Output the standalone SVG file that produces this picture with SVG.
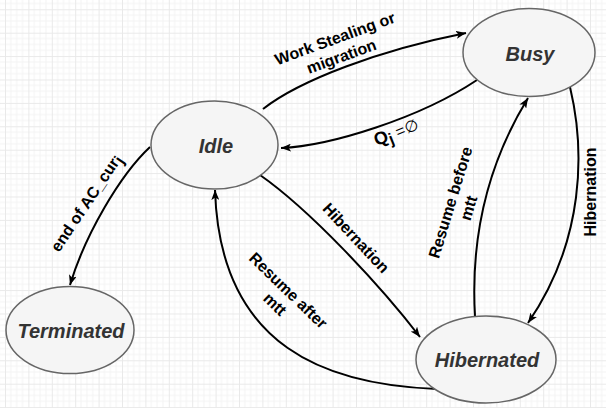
<svg xmlns="http://www.w3.org/2000/svg" width="606" height="408" viewBox="0 0 606 408">
<style>
.node ellipse{fill:#f5f5f5;stroke:#666666;stroke-width:1.5}
.node text{font-family:"Liberation Sans",Arial,sans-serif;font-weight:bold;font-style:italic;font-size:20px;fill:#333333;text-anchor:middle;dominant-baseline:central}
.edge{fill:none;stroke:#000000;stroke-width:2;marker-end:url(#arr)}
.lbl{font-family:"Liberation Sans",Arial,sans-serif;font-weight:bold;font-size:16px;fill:#000000;text-anchor:middle;dominant-baseline:central}
</style>
<defs>
<pattern id="grid" x="5" y="9.3" width="23.4" height="23.4" patternUnits="userSpaceOnUse">
<path d="M5.85,0V23.4M11.7,0V23.4M17.55,0V23.4M0,5.85H23.4M0,11.7H23.4M0,17.55H23.4" stroke="#f4f4f4" stroke-width="1" fill="none"/>
<path d="M0.5,0V23.4M0,0.5H23.4" stroke="#e9e9e9" stroke-width="1" fill="none"/>
</pattern>
<marker id="arr" viewBox="0 0 10 8" refX="10" refY="4" markerWidth="10" markerHeight="8" orient="auto" markerUnits="userSpaceOnUse">
<path d="M0,0 L10,4 L0,8 L2.5,4 z" fill="#000000"/>
</marker>
</defs>
<rect width="606" height="408" fill="#ffffff"/>
<rect width="606" height="408" fill="url(#grid)"/>
<g id="connectors">
<path class="edge" d="M263,109 C300,80 380,50 466,33"/>
<path class="edge" d="M477,80 C420,118 330,146 281,148"/>
<path class="edge" d="M150,147 C120,175 85,235 70,285"/>
<path class="edge" d="M260,175 C310,210 380,285 420,337"/>
<path class="edge" d="M437,389 C330,385 220,350 215,190"/>
<path class="edge" d="M475,316 C470,230 490,160 528,98"/>
<path class="edge" d="M570,87 C585,150 585,240 528,323"/>
<g id="edge-labels">
<text class="lbl" transform="translate(338,47) rotate(-20)"><tspan x="0" y="-9.5">Work Stealing or</tspan><tspan x="0" y="9.5">migration</tspan></text>
<text class="lbl" transform="translate(396,132) rotate(-22)"><tspan font-size="18">Q</tspan><tspan baseline-shift="-4">j</tspan><tspan font-weight="normal"> =∅</tspan></text>
<text class="lbl" transform="translate(86,203) rotate(-56)">end of AC_cur<tspan baseline-shift="-3">j</tspan></text>
<text class="lbl" transform="translate(356,238) rotate(47)">Hibernation</text>
<text class="lbl" transform="translate(282,297) rotate(44)"><tspan x="0" y="-9.5">Resume after</tspan><tspan x="0" y="9.5">mtt</tspan></text>
<text class="lbl" transform="translate(459,205) rotate(-73)"><tspan x="0" y="-9.5">Resume before</tspan><tspan x="0" y="9.5">mtt</tspan></text>
<text class="lbl" transform="translate(590,192) rotate(-90)">Hibernation</text>
</g>
</g>
<g id="node-busy" class="node"><ellipse cx="529" cy="52.5" rx="66" ry="44"/><text x="530" y="54">Busy</text></g>
<g id="node-idle" class="node"><ellipse cx="214.5" cy="145" rx="63.5" ry="44"/><text x="216" y="146">Idle</text></g>
<g id="node-terminated" class="node"><ellipse cx="70" cy="330" rx="64" ry="43.5"/><text x="71" y="331">Terminated</text></g>
<g id="node-hibernated" class="node"><ellipse cx="486" cy="359.5" rx="70" ry="43.5"/><text x="487" y="360">Hibernated</text></g>
</svg>
